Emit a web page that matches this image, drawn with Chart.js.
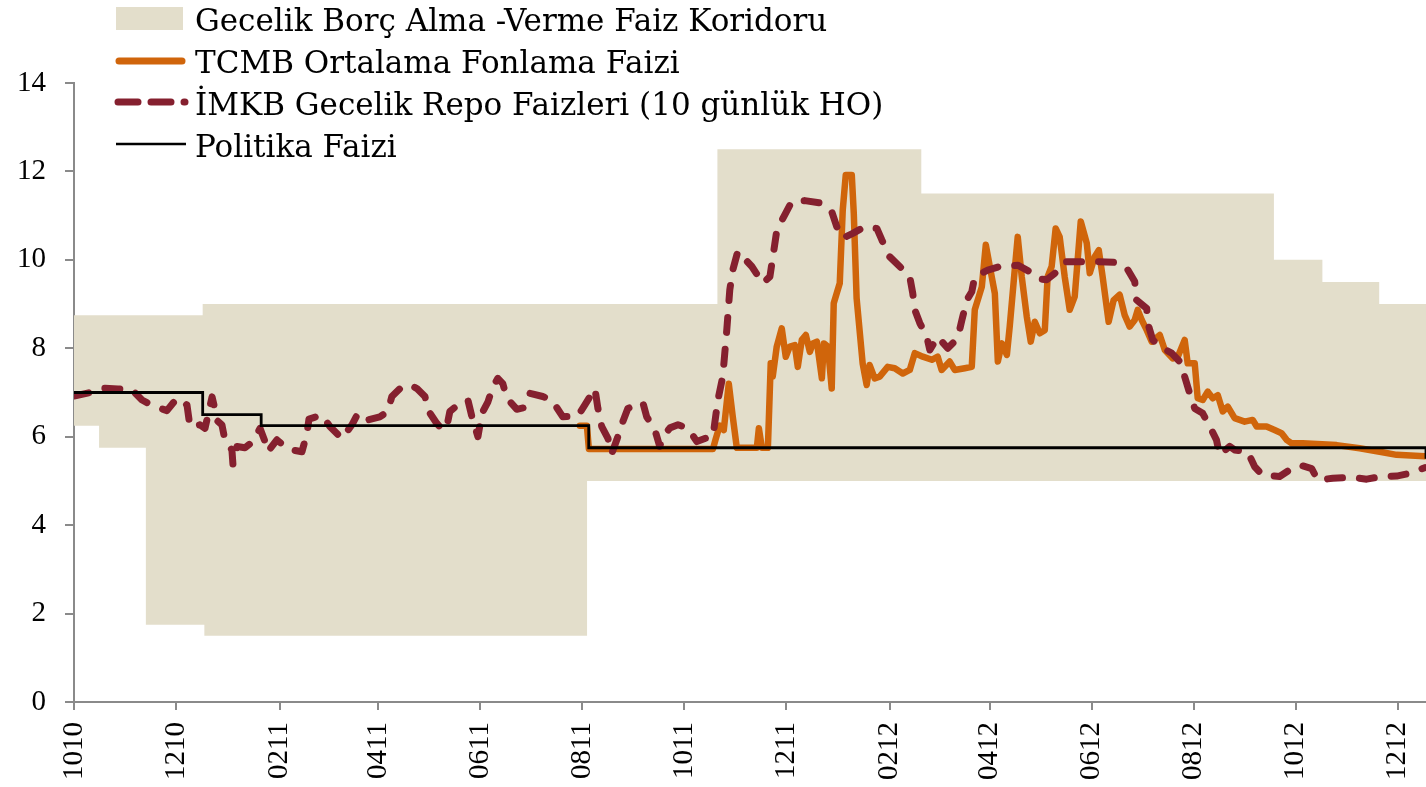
<!DOCTYPE html>
<html>
<head>
<meta charset="utf-8">
<script src="https://cdn.jsdelivr.net/npm/chart.js@4.4.1/dist/chart.umd.min.js"></script>
<style>
html,body{margin:0;padding:0;background:#fff;}
#wrap{position:relative;width:1426px;height:787px;overflow:hidden;background:#fff;}
#c{position:absolute;left:0;top:0;}
#legend{position:absolute;left:100px;top:0;width:900px;height:170px;}
#legend svg{position:absolute;left:0;top:0;}
.item{position:absolute;left:95px;font-family:'DejaVu Serif';font-size:31px;line-height:42px;color:#000;white-space:nowrap;}
</style>
</head>
<body>
<div id="wrap">
  <canvas id="c" width="1426" height="787"></canvas>
  <div id="legend"></div>
</div>
<script>
// ---- Data (x = days since 1 Oct 2010) ----
const tickDays   = [0, 61, 123, 182, 243, 304, 365, 426, 488, 548, 609, 670, 731, 792];
const tickLabels = ['1010','1210','0211','0411','0611','0811','1011','1211','0212','0412','0612','0812','1012','1212'];

const legendLabels = [
  'Gecelik Borç Alma -Verme Faiz Koridoru',
  'TCMB Ortalama Fonlama Faizi',
  'İMKB Gecelik Repo Faizleri (10 günlük HO)',
  'Politika Faizi'
];

const corridorDays = [0, 15, 43, 77, 78, 307, 385, 507, 718, 747, 781, 809];
const borrowRate   = [6.25, 5.75, 1.75, 1.75, 1.5, 5.0, 5.0, 5.0, 5.0, 5.0, 5.0, 5.0];
const lendRate     = [8.75, 8.75, 8.75, 9.0, 9.0, 9.0, 12.5, 11.5, 10.0, 9.5, 9.0, 9.0];

const policyDays = [0, 77, 112, 308, 809];
const policyRate = [7.0, 6.5, 6.25, 5.75, 5.5];

const repoDays = [0, 9.6, 17.3, 26.3, 34.7, 40.7, 47.3, 55.6, 61.6, 67.6,
  69.4, 75.4, 78.4, 82.6, 86.1, 88.5, 90.3, 94.5, 95.1, 97.5,
  102.3, 107.1, 111.3, 114.3, 116, 121.4, 128, 136.4, 139.4, 140.6,
  148.4, 153.1, 160.3, 166.3, 169.9, 175.9, 183, 187.8, 190.2, 196.2,
  201, 205.2, 210, 211.8, 217.1, 220.7, 223.1, 224.9, 229.7, 235.7,
  238.1, 241.7, 244.1, 247.7, 250.6, 253.6, 256.6, 259, 265, 269.8,
  272.8, 280.5, 285.9, 292.5, 301.5, 305.7, 311.7, 313.5, 315.8, 319.5,
  321.8, 324.8, 328.4, 331.4, 340.4, 342.7, 347.6, 350.5, 352.4, 356.6,
  361.4, 367.4, 372.7, 377.5, 382.3, 385.3, 388.2, 390.6, 392.4, 394.2,
  397.2, 405.6, 412.2, 416.4, 418.2, 420.6, 425.3, 429.5, 437.3, 447.5,
  453.4, 456.4, 460, 466, 473.2, 480.4, 483.4, 488.1, 494.1, 500.1,
  501.9, 503.1, 506.1, 510.3, 512.1, 516.8, 522.8, 528.8, 531.3, 534.2,
  537.2, 539, 546.8, 554, 564.7, 571.9, 576.1, 582, 588, 592.8,
  606, 612, 624, 630, 634.7, 635.9, 641.9, 642.5, 645.5, 649.7,
  656.8, 661.6, 664.6, 667.6, 670.6, 675.4, 679.6, 683.6, 685.5, 691.5,
  694.5, 702.3, 706.5, 711.3, 721.4, 727.4, 733.4, 740.6, 744.2, 753.2,
  765.1, 773.5, 782.4, 791.4, 799.2, 808.2];
const repoRate = [6.92, 7.0, 7.1, 7.08, 7.06, 6.83, 6.7, 6.59, 6.87, 6.72,
  6.23, 6.27, 6.19, 6.9, 6.35, 6.27, 5.93, 5.7, 5.38, 5.78,
  5.75, 5.89, 6.19, 5.89, 5.66, 5.93, 5.72, 5.66, 6.08, 6.4,
  6.49, 6.23, 5.96, 6.27, 6.53, 6.38, 6.45, 6.57, 6.91, 7.13,
  7.17, 7.09, 6.91, 6.6, 6.3, 6.15, 6.23, 6.57, 6.72, 6.83,
  6.45, 6.0, 6.53, 6.79, 7.13, 7.32, 7.2, 6.87, 6.62, 6.66,
  6.98, 6.91, 6.83, 6.45, 6.47, 6.72, 7.09, 6.64, 6.23, 5.96,
  5.62, 5.93, 6.34, 6.64, 6.77, 6.45, 6.15, 5.78, 6.0, 6.2,
  6.27, 6.19, 5.89, 5.96, 6.0, 6.83, 7.36, 8.41, 9.32, 9.77,
  10.19, 9.85, 9.47, 9.62, 10.07, 10.68, 11.02, 11.32, 11.34, 11.28,
  11.09, 10.75, 10.49, 10.6, 10.75, 10.71, 10.45, 10.07, 9.85, 9.62,
  9.24, 8.87, 8.57, 8.26, 7.96, 8.26, 8.0, 8.23, 8.64, 9.09,
  9.28, 9.62, 9.77, 9.85, 9.88, 9.73, 9.58, 9.55, 9.73, 9.96,
  9.96, 9.96, 9.94, 9.81, 9.51, 9.09, 8.9, 8.57, 8.19, 8.04,
  7.89, 7.7, 7.36, 6.98, 6.64, 6.53, 6.23, 5.93, 5.59, 5.78,
  5.7, 5.66, 5.32, 5.13, 5.1, 5.25, 5.36, 5.28, 5.02, 5.06,
  5.08, 5.04, 5.1, 5.11, 5.17, 5.3];

const fundDays = [302.7, 306.9, 308.1, 382.3, 384, 386.4, 388.8, 391.8, 394.2, 396.6,
  408.6, 409.8, 411.6, 415.2, 416.9, 418.1, 420.5, 423.5, 425.9, 428.3,
  431.3, 433.1, 435.5, 437.9, 440.3, 442.1, 444.5, 447.5, 448.7, 451.1,
  453.4, 454.6, 458.2, 460, 461.8, 465.4, 466.6, 468.3, 471.9, 474.3,
  476.1, 479.1, 482.1, 486.9, 491.1, 495.9, 500.1, 503.1, 507.9, 513.3,
  516.8, 519.2, 524, 527, 533, 537.2, 539, 543.2, 545.6, 548,
  551, 552.8, 555.2, 558.2, 559.9, 562.9, 564.7, 567.1, 570.1, 572.5,
  574.9, 577.9, 580.9, 582.6, 585, 587.4, 589.8, 592.8, 595.8, 598.8,
  602.4, 606, 607.8, 610.8, 613.2, 615.5, 619.1, 622.1, 625.7, 628.7,
  631.7, 634.7, 636.5, 638.9, 641.9, 644.9, 649.7, 652.7, 657.5, 660.5,
  664.6, 666.4, 670.6, 672.4, 675.4, 678.4, 681.4, 684.4, 687.4, 690.4,
  694.5, 700.5, 705.3, 707.7, 713.6, 718.4, 722.6, 725.6, 728.6, 735.2,
  755.5, 769.3, 781.3, 791.4, 808.2];
const fundRate = [6.25, 6.25, 5.72, 5.72, 5.95, 6.25, 6.15, 7.2, 6.45, 5.75,
  5.75, 6.19, 5.75, 5.75, 7.66, 7.36, 8.04, 8.45, 7.81, 8.04,
  8.07, 7.58, 8.19, 8.3, 7.92, 8.11, 8.15, 7.32, 8.11, 8.04,
  7.09, 9.02, 9.47, 11.13, 11.92, 11.92, 11.05, 9.13, 7.66, 7.17,
  7.62, 7.32, 7.36, 7.58, 7.55, 7.43, 7.51, 7.89, 7.81, 7.74,
  7.81, 7.51, 7.7, 7.51, 7.55, 7.58, 8.87, 9.39, 10.34, 9.85,
  9.24, 7.7, 8.11, 7.85, 8.49, 9.77, 10.52, 9.62, 8.72, 8.15,
  8.6, 8.34, 8.41, 9.62, 9.85, 10.71, 10.52, 9.62, 8.87, 9.17,
  10.87, 10.38, 9.7, 10.07, 10.22, 9.62, 8.6, 9.09, 9.21, 8.75,
  8.49, 8.64, 8.87, 8.64, 8.41, 8.15, 8.3, 7.96, 7.77, 7.81,
  8.19, 7.66, 7.66, 6.87, 6.83, 7.02, 6.87, 6.94, 6.57, 6.68,
  6.42, 6.34, 6.38, 6.23, 6.23, 6.15, 6.08, 5.93, 5.85, 5.85,
  5.81, 5.74, 5.66, 5.59, 5.56];

// ---- Styles ----
const COL_CORRIDOR = '#E3DECB';
const COL_FUND = '#D0650B';
const COL_REPO = '#85202F';
const COL_POLICY = '#000000';
const COL_AXIS = '#8a8a8a';

const pts = (xs, ys) => xs.map((x, i) => ({ x: x, y: ys[i] }));

// ---- Legend (HTML) ----
const legend = document.getElementById('legend');
const svgNS = 'http://www.w3.org/2000/svg';
const svg = document.createElementNS(svgNS, 'svg');
svg.setAttribute('width', '100'); svg.setAttribute('height', '170');
svg.innerHTML =
  '<rect x="16" y="7" width="67" height="23" fill="' + COL_CORRIDOR + '"/>' +
  '<line x1="19" y1="61" x2="82" y2="61" stroke="' + COL_FUND + '" stroke-width="7" stroke-linecap="round"/>' +
  '<line x1="18" y1="102" x2="85" y2="102" stroke="' + COL_REPO + '" stroke-width="7" stroke-linecap="round" stroke-dasharray="20 13"/>' +
  '<line x1="16" y1="144" x2="86" y2="144" stroke="' + COL_POLICY + '" stroke-width="2.6"/>';
legend.appendChild(svg);
legendLabels.forEach((t, i) => {
  const d = document.createElement('div');
  d.className = 'item';
  d.style.top = (-1 + i * 42) + 'px';
  d.textContent = t;
  legend.appendChild(d);
});

// ---- Chart ----
const tickFont = { family: 'Liberation Serif', size: 29 };
new Chart(document.getElementById('c'), {
  type: 'line',
  data: {
    datasets: [
      { label: legendLabels[3], data: pts(policyDays, policyRate), borderColor: COL_POLICY,
        borderWidth: 2.8, stepped: true, pointRadius: 0, fill: false, order: 0 },
      { label: legendLabels[2], data: pts(repoDays, repoRate), borderColor: COL_REPO,
        borderWidth: 7, borderDash: [15, 17], borderCapStyle: 'round', borderJoinStyle: 'round',
        pointRadius: 0, fill: false, order: 1 },
      { label: legendLabels[1], data: pts(fundDays, fundRate), borderColor: COL_FUND,
        borderWidth: 6.5, borderCapStyle: 'round', borderJoinStyle: 'round',
        pointRadius: 0, fill: false, order: 2 },
      { label: legendLabels[0] + ' (alt)', data: pts(corridorDays, borrowRate),
        borderColor: 'rgba(0,0,0,0)', borderWidth: 1, stepped: true, pointRadius: 0, fill: false, order: 4 },
      { label: legendLabels[0], data: pts(corridorDays, lendRate),
        borderColor: 'rgba(0,0,0,0)', borderWidth: 1, stepped: true, pointRadius: 0,
        backgroundColor: COL_CORRIDOR, fill: '-1', order: 3 }
    ]
  },
  options: {
    responsive: false,
    devicePixelRatio: 1,
    animation: false,
    layout: { padding: { top: 83, right: 0, left: 0, bottom: 0 } },
    plugins: { legend: { display: false }, tooltip: { enabled: false } },
    elements: { line: { tension: 0 } },
    scales: {
      x: {
        type: 'linear', min: 0, max: 809,
        afterBuildTicks: s => { s.ticks = tickDays.map(v => ({ value: v })); },
        afterFit: s => { s.height = 85; s.paddingLeft = 0; s.paddingRight = 0; },
        grid: { display: true, drawOnChartArea: false, drawTicks: true, tickLength: 8, color: COL_AXIS, lineWidth: 2 },
        border: { display: true, color: COL_AXIS, width: 2 },
        ticks: { autoSkip: false, minRotation: 90, maxRotation: 90, padding: 12, color: '#000', font: tickFont,
          callback: (v, i) => tickLabels[i] }
      },
      y: {
        min: 0, max: 14,
        afterFit: s => { s.width = 74; s.paddingTop = 0; s.paddingBottom = 0; },
        grid: { display: true, drawOnChartArea: false, drawTicks: true, tickLength: 9, color: COL_AXIS, lineWidth: 2 },
        border: { display: true, color: COL_AXIS, width: 2 },
        ticks: { stepSize: 2, padding: 19, color: '#000', font: tickFont }
      }
    }
  }
});
</script>
</body>
</html>
